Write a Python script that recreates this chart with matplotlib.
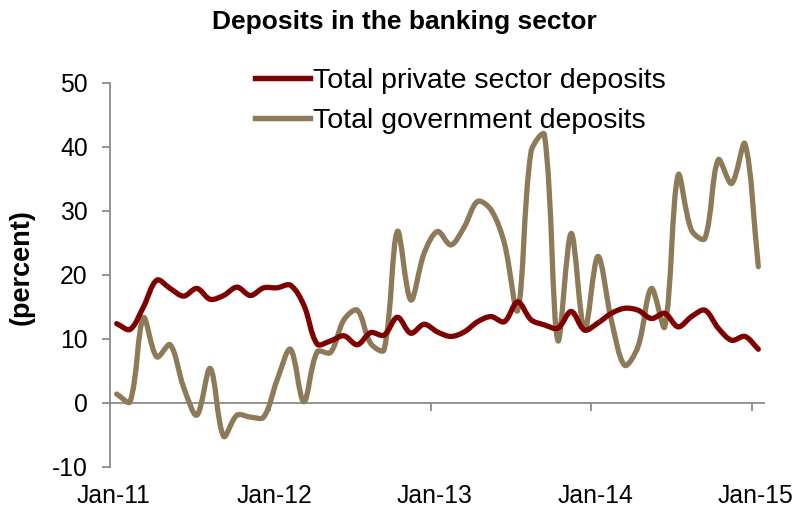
import matplotlib
matplotlib.use("Agg")
import matplotlib.pyplot as plt
from matplotlib.path import Path
from matplotlib.patches import PathPatch
from matplotlib.lines import Line2D
import numpy as np

plt.rcParams['font.family'] = ['Liberation Sans', 'DejaVu Sans']
plt.rcParams['axes.unicode_minus'] = False

title = "Deposits in the banking sector"
ylabel = "(percent)"
series_names = ["Total private sector deposits", "Total government deposits"]
tick_labels = ["Jan-11", "Jan-12", "Jan-13", "Jan-14", "Jan-15"]
yticks = [-10, 0, 10, 20, 30, 40, 50]

# monthly, Jan-11 .. Jan-15
private = [12.4, 11.5, 15.0, 19.2, 17.9, 16.7, 17.9, 16.2, 16.8, 18.1,
           16.8, 18.0, 18.0, 18.4, 15.3, 9.2, 9.7, 10.5, 9.1, 11.0,
           10.6, 13.4, 10.9, 12.3, 11.1, 10.4, 11.1, 12.7, 13.5, 12.7,
           15.8, 13.0, 12.2, 11.7, 14.3, 11.4, 12.5, 14.0, 14.8, 14.5,
           13.2, 14.0, 11.9, 13.5, 14.5, 11.7, 9.8, 10.4, 8.4]
government = [1.4, 0.2, 13.3, 7.2, 9.1, 2.5, -1.9, 5.4, -5.2, -1.9,
              -2.2, -2.2, 3.6, 8.4, 0.2, 8.0, 7.9, 13.0, 14.5, 9.3,
              8.3, 26.8, 16.1, 23.4, 26.8, 24.7, 27.5, 31.5, 30.2, 25.0,
              14.5, 39.3, 41.9, 9.8, 26.5, 11.4, 22.9, 13.0, 5.9, 8.8,
              17.9, 11.9, 35.6, 27.0, 25.7, 38.0, 34.3, 40.5, 21.3]

colors = ["#7f0000", "#8c7a58"]
axis_color = "#8a8a8a"

fig = plt.figure(figsize=(8.07, 5.13), dpi=100)
ax = fig.add_axes([110/807, 1-467/513, 655/807, (467-83)/513])
ax.set_xlim(0, 49)
ax.set_ylim(-10, 50)

def smooth_path(x, y, sx, sy):
    """Excel-like smoothed line: cubic Bezier, tangents weighted by
    neighbouring segment lengths measured in display units."""
    pts = np.column_stack([x, y]).astype(float)
    n = len(pts)
    disp = pts * np.array([sx, sy])
    d = np.hypot(*(np.diff(disp, axis=0).T))
    out_ctrl = []
    in_ctrl = []
    for i in range(n):
        if i == 0:
            t = pts[1] - pts[0]
            out_ctrl.append(pts[0] + t / 3.0)
            in_ctrl.append(pts[0])
        elif i == n - 1:
            t = pts[i] - pts[i - 1]
            in_ctrl.append(pts[i] - t / 3.0)
            out_ctrl.append(pts[i])
        else:
            t = pts[i + 1] - pts[i - 1]
            a, b = d[i - 1], d[i]
            out_ctrl.append(pts[i] + t * b / (a + b) / 3.0)
            in_ctrl.append(pts[i] - t * a / (a + b) / 3.0)
    verts = [pts[0]]
    codes = [Path.MOVETO]
    for i in range(n - 1):
        verts += [out_ctrl[i], in_ctrl[i + 1], pts[i + 1]]
        codes += [Path.CURVE4] * 3
    return Path(verts, codes)

sx = 655 / 49.0
sy = 384 / 60.0
x = np.arange(len(private)) + 0.5
for vals, col in [(government, colors[1]), (private, colors[0])]:
    patch = PathPatch(smooth_path(x, np.array(vals), sx, sy), fill=False,
                      edgecolor=col, lw=3.8, capstyle='round', joinstyle='round')
    ax.add_patch(patch)

# zero axis line with ticks
ax.axhline(0, color=axis_color, lw=1.3, zorder=0.5)
ax.vlines([12, 24, 36, 48], -1.25, 0, color=axis_color, lw=1.3, zorder=0.5)

for s in ['top', 'right', 'bottom']:
    ax.spines[s].set_visible(False)
ax.spines['left'].set_color(axis_color)
ax.spines['left'].set_linewidth(1.3)

ax.set_yticks(yticks)
ax.tick_params(axis='y', direction='out', length=6, width=1.3, color=axis_color,
               labelsize=17.8, pad=10)
ax.set_xticks([0.3, 12.3, 24.3, 36.3, 48.3])
ax.set_xticklabels(tick_labels)
ax.tick_params(axis='x', length=0, labelsize=17.8, pad=12)

ax.set_ylabel(ylabel, fontsize=19.5, fontweight='bold')
ax.yaxis.set_label_coords((35 - 110) / 655, 0.52)
fig.text(404/807, 1-22/513, title, ha='center', va='center', fontsize=19, fontweight='bold')

handles = [Line2D([], [], color=colors[0], lw=3.9),
           Line2D([], [], color=colors[1], lw=3.9)]
ax.legend(handles, series_names, loc='upper left',
          bbox_to_anchor=(255/807, 1-68/513), bbox_transform=fig.transFigure,
          frameon=False, fontsize=20.5, handlelength=1.93, handletextpad=0.1,
          labelspacing=0.48, borderpad=0, borderaxespad=0)

fig.savefig("out.png", dpi=100)
